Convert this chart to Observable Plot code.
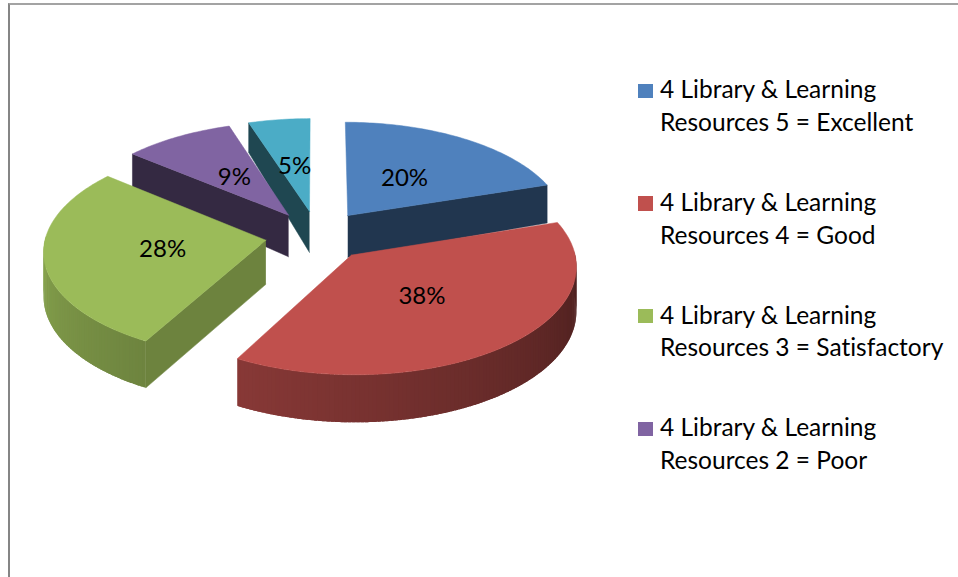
<!DOCTYPE html>
<html><head><meta charset="utf-8">
<script src="https://cdn.jsdelivr.net/npm/d3@7"></script>
<script src="https://cdn.jsdelivr.net/npm/@observablehq/plot@0.6"></script>
<style>
html,body{margin:0;padding:0;background:#fff;}
#wrap{position:relative;width:958px;height:577px;overflow:hidden;font-family:Lato,"Open Sans",sans-serif;font-variant-ligatures:none;}
#frame{position:absolute;left:8px;top:3px;right:-10px;bottom:-10px;border-left:2px solid #858585;border-top:2px solid #a3a3a3;}
#chart{position:absolute;left:0;top:0;}
.sw{position:absolute;width:14.5px;height:14.5px;}
.lt{position:absolute;font-size:24.5px;line-height:32.5px;color:#000;white-space:pre;font-variant-ligatures:none;}
</style></head>
<body><div id="wrap"><div id="frame"></div><div id="chart"></div><div id="legend"></div></div>
<script>
// ---- data ----
const categories = [
  "4 Library & Learning Resources 5 = Excellent",
  "4 Library & Learning Resources 4 = Good",
  "4 Library & Learning Resources 3 = Satisfactory",
  "4 Library & Learning Resources 2 = Poor",
  "4 Library & Learning Resources 1 = Very Poor"
];
const values = [20, 38, 28, 9, 5];
const valueLabels = ["20%", "38%", "28%", "9%", "5%"];
const legendCount = 4; // only four entries shown in the reference legend

// ---- styles ----
const colors = ["#4F81BD", "#C0504D", "#9BBB59", "#8064A2", "#4BACC6"];
const radialShade = [0.42, 0.42, 0.70, 0.41, 0.41];
const drawOrder = [4, 3, 0, 2, 1];

// ---- layout ----
const W = 958, H = 577, CX = 317, CY = 235, R = 220;
const EXPLODE = 0.238, Q = 0.478, P = 0.09;

const total = d3.sum(values);
let acc = 0;
const slices = values.map((v, i) => {
  const a0 = acc / total * 360; acc += v; const a1 = acc / total * 360;
  return {i, a0, a1, mid: (a0 + a1) / 2};
});
const rad = d => d * Math.PI / 180;
const hPx = zf => 44 + 12 * Math.min(zf, 0) + 3 * Math.max(zf, 0);
function proj(X, Zf, down) {
  const s = 1 / (1 - P * Zf);
  return [s * X, s * Q * Zf + (down ? hPx(Zf) / R : 0)];
}
function shade(c, f) {
  const k = d3.rgb(c);
  return d3.rgb(k.r * f, k.g * f, k.b * f).formatHex();
}
const wallF = th => 0.39 + 0.48 * (th - 90) / 180;

const rows = [];
let fid = 0;
function addPoly(pts, fill, edge) {
  const id = fid++;
  for (const [x, y] of pts) rows.push({x, y, face: id, fill, edge: edge ? fill : "none"});
}
const labelRows = [];
for (const k of drawOrder) {
  const s = slices[k];
  const m = rad(s.mid);
  const dX = EXPLODE * Math.sin(m), dZ = -EXPLODE * Math.cos(m);
  const rim = th => [dX + Math.sin(rad(th)), dZ - Math.cos(rad(th))];
  const apex = [dX, dZ];
  const P3 = (pt, down) => proj(pt[0], pt[1], down);
  // radial faces
  if (Math.sin(rad(s.a0)) < -1e-6) {
    const r0 = rim(s.a0);
    addPoly([P3(apex, 0), P3(r0, 0), P3(r0, 1), P3(apex, 1)], shade(colors[k], radialShade[k]), true);
  }
  if (Math.sin(rad(s.a1)) > 1e-6) {
    const r1 = rim(s.a1);
    addPoly([P3(apex, 0), P3(r1, 0), P3(r1, 1), P3(apex, 1)], shade(colors[k], radialShade[k]), true);
  }
  // outer wall strips (overlapping slightly so no seams show)
  const w0 = Math.max(s.a0, 88), w1 = Math.min(s.a1, 272);
  if (w1 > w0) {
    const n = Math.max(1, Math.ceil(w1 - w0));
    for (let j = 0; j < n; j++) {
      const t0 = w0 + (w1 - w0) * j / n;
      const t1 = Math.min(w1, w0 + (w1 - w0) * (j + 1) / n + 0.8);
      const pts = [];
      const steps = 3;
      for (let q = 0; q <= steps; q++) pts.push(P3(rim(t0 + (t1 - t0) * q / steps), 0));
      for (let q = steps; q >= 0; q--) pts.push(P3(rim(t0 + (t1 - t0) * q / steps), 1));
      addPoly(pts, shade(colors[k], wallF(w0 + (w1 - w0) * (j + 0.5) / n)), false);
    }
  }
  // top face
  const top = [P3(apex, 0)];
  const n = Math.ceil(s.a1 - s.a0);
  for (let j = 0; j <= n; j++) top.push(P3(rim(s.a0 + (s.a1 - s.a0) * j / n), 0));
  top.push(P3(apex, 0));
  addPoly(top, colors[k], true);
  // label
  const lp = P3([dX + 0.47 * Math.sin(m), dZ - 0.47 * Math.cos(m)], 0);
  labelRows.push({x: lp[0], y: lp[1], text: valueLabels[k]});
}

const chart = Plot.plot({
  width: W, height: H, margin: 0,
  x: {domain: [-CX / R, (W - CX) / R], range: [0, W], axis: null},
  y: {domain: [-CY / R, (H - CY) / R], range: [0, H], axis: null},
  color: {type: "identity"},
  style: {background: "transparent"},
  marks: [
    Plot.line(rows, {x: "x", y: "y", z: "face", fill: "fill", stroke: "edge", strokeWidth: 0.5, curve: "linear"}),
    Plot.text(labelRows, {x: "x", y: "y", text: "text", fontSize: 24, fontFamily: "Lato", fill: "#000"})
  ]
});
document.getElementById("chart").appendChild(chart);

// legend
const leg = document.getElementById("legend");
for (let i = 0; i < legendCount; i++) {
  const sw = document.createElement("div");
  sw.className = "sw"; sw.style.left = "638px"; sw.style.top = (83.5 + i * 112.7) + "px"; sw.style.background = colors[i];
  leg.appendChild(sw);
  const t = document.createElement("div");
  t.className = "lt"; t.style.left = "660px"; t.style.top = (73.3 + i * 112.7) + "px";
  const cut = categories[i].indexOf(" Resources");
  t.textContent = categories[i].slice(0, cut) + "\n" + categories[i].slice(cut + 1);
  leg.appendChild(t);
}
</script>
</body></html>
